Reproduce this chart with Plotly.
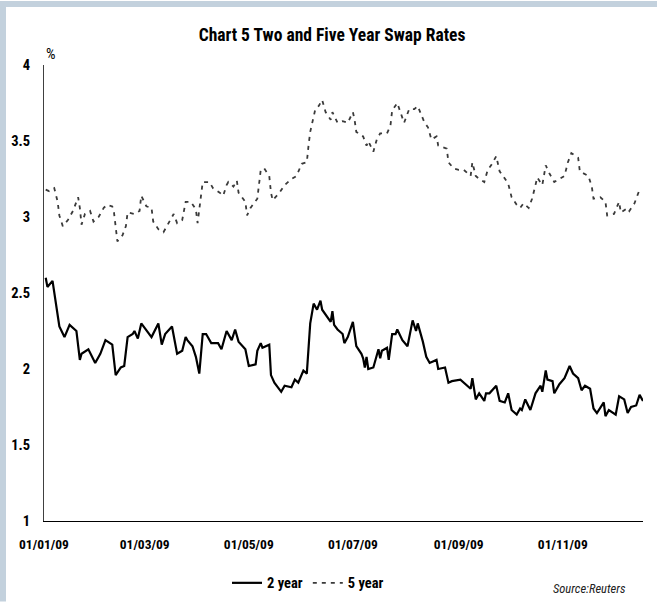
import plotly.graph_objects as go

# ---- data ----
dates_2y = ["2009-01-02","2009-01-03","2009-01-06","2009-01-10","2009-01-13","2009-01-16","2009-01-20","2009-01-22","2009-01-23","2009-01-27","2009-01-31",
            "2009-02-03","2009-02-06","2009-02-10","2009-02-12","2009-02-15","2009-02-17","2009-02-19","2009-02-22","2009-02-23","2009-02-25","2009-02-27",
            "2009-03-05","2009-03-09","2009-03-11","2009-03-13","2009-03-17","2009-03-20","2009-03-23","2009-03-25","2009-03-26","2009-03-29","2009-03-31",
            "2009-04-02","2009-04-04","2009-04-06","2009-04-09","2009-04-13","2009-04-15","2009-04-18","2009-04-21","2009-04-23","2009-04-25","2009-04-29",
            "2009-05-01","2009-05-05","2009-05-06","2009-05-08","2009-05-09","2009-05-13","2009-05-14","2009-05-16","2009-05-20","2009-05-22","2009-05-26","2009-05-28","2009-05-30",
            "2009-06-02","2009-06-04","2009-06-06","2009-06-08","2009-06-10","2009-06-12","2009-06-13","2009-06-18","2009-06-19","2009-06-20","2009-06-22","2009-06-25","2009-06-26","2009-06-28",
            "2009-07-01","2009-07-03","2009-07-06","2009-07-07","2009-07-08","2009-07-09","2009-07-10","2009-07-13","2009-07-16","2009-07-17","2009-07-18","2009-07-21","2009-07-22","2009-07-24","2009-07-26","2009-07-27","2009-07-30",
            "2009-08-02","2009-08-05","2009-08-07","2009-08-08","2009-08-11","2009-08-13","2009-08-15","2009-08-19","2009-08-20","2009-08-24","2009-08-26","2009-08-28",
            "2009-09-02","2009-09-08","2009-09-09","2009-09-11","2009-09-13","2009-09-16","2009-09-17","2009-09-19","2009-09-23","2009-09-25","2009-09-28","2009-09-30",
            "2009-10-02","2009-10-05","2009-10-07","2009-10-08","2009-10-10","2009-10-13","2009-10-16","2009-10-19","2009-10-20","2009-10-22","2009-10-23","2009-10-26","2009-10-27","2009-10-30",
            "2009-11-02","2009-11-05","2009-11-07","2009-11-10","2009-11-12","2009-11-14","2009-11-17","2009-11-19","2009-11-21","2009-11-25","2009-11-26","2009-11-28",
            "2009-12-02","2009-12-04","2009-12-07","2009-12-09","2009-12-11","2009-12-14","2009-12-16","2009-12-18"]
rate_2y = [2.60,2.54,2.58,2.28,2.21,2.29,2.25,2.06,2.10,2.13,2.04,
           2.10,2.19,2.16,1.96,2.01,2.02,2.21,2.23,2.25,2.20,2.30,
           2.21,2.30,2.16,2.23,2.28,2.10,2.12,2.21,2.19,2.15,2.08,
           1.97,2.23,2.23,2.17,2.17,2.13,2.25,2.19,2.26,2.18,2.13,
           2.02,2.03,2.12,2.17,2.14,2.16,1.96,1.91,1.85,1.89,1.88,1.93,1.91,
           1.99,1.97,2.30,2.43,2.39,2.45,2.39,2.31,2.38,2.29,2.26,2.23,2.17,2.21,
           2.31,2.15,2.10,2.07,2.01,2.08,2.00,2.01,2.13,2.07,2.12,2.14,2.06,2.23,2.23,2.26,2.19,
           2.15,2.32,2.25,2.30,2.18,2.08,2.04,2.06,2.00,2.01,1.91,1.92,
           1.93,1.87,1.94,1.80,1.84,1.79,1.84,1.84,1.89,1.79,1.78,1.84,
           1.73,1.70,1.74,1.73,1.80,1.73,1.84,1.89,1.85,1.99,1.93,1.92,1.84,1.90,
           1.94,2.02,1.97,1.94,1.86,1.89,1.87,1.74,1.71,1.78,1.69,1.73,
           1.70,1.82,1.80,1.71,1.75,1.76,1.83,1.79]

dates_5y = ["2009-01-02","2009-01-04","2009-01-07","2009-01-09","2009-01-10","2009-01-12","2009-01-15","2009-01-18","2009-01-21","2009-01-22","2009-01-23","2009-01-24","2009-01-25","2009-01-28","2009-01-30",
            "2009-02-02","2009-02-05","2009-02-07","2009-02-10","2009-02-11","2009-02-12","2009-02-13","2009-02-16","2009-02-18","2009-02-19","2009-02-23","2009-02-26","2009-02-27",
            "2009-03-02","2009-03-05","2009-03-06","2009-03-09","2009-03-12","2009-03-15","2009-03-18","2009-03-20","2009-03-23","2009-03-25","2009-03-28","2009-03-31",
            "2009-04-01","2009-04-03","2009-04-04","2009-04-08","2009-04-10","2009-04-14","2009-04-16","2009-04-18","2009-04-19","2009-04-22","2009-04-24","2009-04-25","2009-04-29","2009-04-30",
            "2009-05-02","2009-05-06","2009-05-07","2009-05-08","2009-05-10","2009-05-13","2009-05-14","2009-05-15","2009-05-19","2009-05-22","2009-05-26","2009-05-29",
            "2009-06-01","2009-06-04","2009-06-05","2009-06-06","2009-06-08","2009-06-09","2009-06-11","2009-06-13","2009-06-15","2009-06-18","2009-06-19","2009-06-22","2009-06-25","2009-06-28",
            "2009-07-01","2009-07-02","2009-07-03","2009-07-07","2009-07-09","2009-07-10","2009-07-13","2009-07-15","2009-07-17","2009-07-21","2009-07-23","2009-07-24","2009-07-27","2009-07-29","2009-07-31",
            "2009-08-03","2009-08-06","2009-08-08","2009-08-10","2009-08-12","2009-08-14","2009-08-16","2009-08-19","2009-08-20","2009-08-25","2009-08-26","2009-08-29",
            "2009-09-01","2009-09-04","2009-09-08","2009-09-09","2009-09-11","2009-09-13","2009-09-16","2009-09-18","2009-09-20","2009-09-23","2009-09-25","2009-09-27","2009-09-30",
            "2009-10-02","2009-10-05","2009-10-07","2009-10-09","2009-10-12","2009-10-14","2009-10-16","2009-10-17","2009-10-20","2009-10-22","2009-10-24","2009-10-27","2009-10-30",
            "2009-11-02","2009-11-04","2009-11-06","2009-11-10","2009-11-11","2009-11-16","2009-11-18","2009-11-19","2009-11-23","2009-11-26","2009-11-27",
            "2009-12-01","2009-12-04","2009-12-05","2009-12-09","2009-12-10","2009-12-13","2009-12-16"]
rate_5y = [3.18,3.17,3.19,3.10,3.01,2.94,2.98,3.04,3.13,3.06,2.95,2.98,3.02,3.04,2.97,
           3.00,3.06,3.08,3.07,3.03,2.91,2.84,2.88,2.94,3.03,3.02,3.04,3.14,
           3.07,3.06,2.97,2.92,2.90,2.96,3.02,2.96,2.98,3.10,3.10,3.05,
           2.96,3.14,3.23,3.23,3.19,3.16,3.14,3.21,3.23,3.20,3.24,3.16,3.10,3.01,
           3.06,3.12,3.20,3.31,3.32,3.27,3.16,3.11,3.16,3.21,3.25,3.27,
           3.35,3.36,3.47,3.56,3.66,3.71,3.73,3.77,3.69,3.64,3.69,3.62,3.63,3.62,
           3.69,3.64,3.56,3.53,3.47,3.50,3.43,3.51,3.55,3.55,3.60,3.70,3.75,3.68,3.62,
           3.71,3.71,3.73,3.68,3.62,3.59,3.51,3.53,3.47,3.45,3.36,3.32,
           3.31,3.31,3.27,3.36,3.27,3.25,3.23,3.31,3.34,3.40,3.30,3.27,3.22,
           3.13,3.08,3.06,3.09,3.06,3.12,3.21,3.26,3.21,3.34,3.29,3.23,3.25,
           3.27,3.36,3.42,3.39,3.30,3.27,3.20,3.12,3.13,3.10,3.01,
           3.02,3.10,3.03,3.06,3.04,3.09,3.18]

tick_dates = ["2009-01-01", "2009-03-01", "2009-05-01", "2009-07-01", "2009-09-01", "2009-11-01"]
y_ticks = [1, 1.5, 2, 2.5, 3, 3.5, 4]

FONT = "Roboto Condensed, Open Sans Condensed, DejaVu Sans Condensed, sans-serif"
BORDER = "#C3D1DD"

fig = go.Figure()
fig.add_trace(go.Scatter(x=dates_2y, y=rate_2y, mode="lines", name="2 year",
                         line=dict(color="#000000", width=2.2)))
fig.add_trace(go.Scatter(x=dates_5y, y=rate_5y, mode="lines", name="5 year",
                         line=dict(color="#3a3a3a", width=1.8, dash="4px,5px")))

W, H = 657, 611
L, R, T, B = 44, 14, 65, 82
pw, ph = W - L - R, H - T - B

def px(X):
    return (X - L) / pw

def py(Y):
    return (H - B - Y) / ph

fig.update_layout(
    width=W, height=H,
    margin=dict(l=L, r=R, t=T, b=B),
    paper_bgcolor="white", plot_bgcolor="white",
    font=dict(family=FONT, color="black", size=14),
    title=dict(text="Chart 5 Two and Five Year Swap Rates", xref="container", x=332 / W,
               xanchor="center", y=1 - 35 / H, yanchor="middle",
               font=dict(family=FONT, size=17.5, weight="bold", color="black")),
    showlegend=True,
    legend=dict(orientation="h", x=px(308), xanchor="center", y=py(592), yanchor="middle",
                font=dict(family=FONT, size=14.5, weight="bold"), itemwidth=30,
                bgcolor="rgba(0,0,0,0)"),
    xaxis=dict(type="date", range=["2009-01-01", "2009-12-18"], tickvals=tick_dates,
               tickformat="%d/%m/%y", showgrid=False, zeroline=False,
               showline=True, linecolor="black", linewidth=1, ticks="",
               tickfont=dict(family=FONT, size=13.5, weight="bold"), ticklabelstandoff=11),
    yaxis=dict(range=[1, 4], tickvals=y_ticks, ticktext=[f"{v:g}" for v in y_ticks],
               showgrid=False, zeroline=False, showline=True, linecolor="#404040",
               linewidth=1, ticks="", tickfont=dict(family=FONT, size=14.5, weight="bold"),
               ticklabelstandoff=10),
    shapes=[
        dict(type="rect", xref="paper", yref="paper", x0=px(0), x1=px(W), y0=py(6), y1=py(0),
             fillcolor=BORDER, line=dict(width=0), layer="above"),
        dict(type="rect", xref="paper", yref="paper", x0=px(0), x1=px(6), y0=py(H), y1=py(0),
             fillcolor=BORDER, line=dict(width=0), layer="above"),
    ],
    annotations=[
        dict(text="%", xref="paper", yref="paper", x=px(51), y=py(54), xanchor="center",
             yanchor="middle", showarrow=False, font=dict(family=FONT, size=15)),
        dict(text="<i>Source:Reuters</i>", xref="paper", yref="paper", x=px(628), y=py(598),
             xanchor="right", yanchor="middle", showarrow=False,
             font=dict(family=FONT, size=12.5, color="#222")),
    ],
)

fig.write_html("out.html")
